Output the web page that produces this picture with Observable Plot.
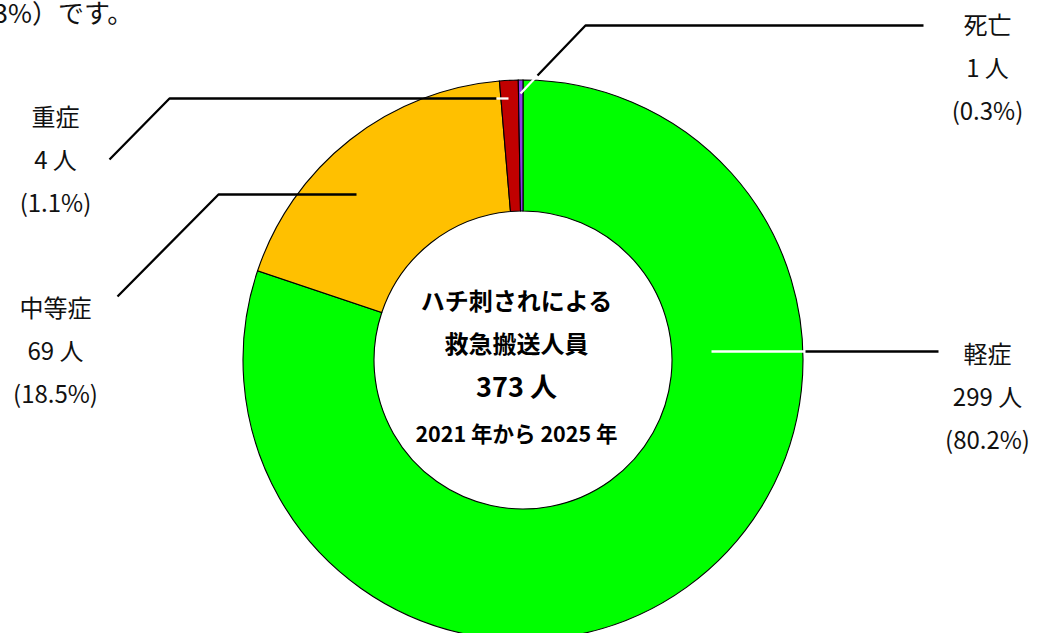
<!DOCTYPE html>
<html><head><meta charset="utf-8">
<script src="https://cdn.jsdelivr.net/npm/d3@7"></script>
<script src="https://cdn.jsdelivr.net/npm/@observablehq/plot@0.6"></script>
<style>
html,body{margin:0;padding:0;background:#fff;overflow:hidden;}
svg{display:block;}
</style>
</head><body><div id="chart"></div>
<script>
// ---- data ----
const categories = ["軽症", "中等症", "重症", "死亡"];
const counts = [299, 69, 4, 1];
const percents = ["80.2%", "18.5%", "1.1%", "0.3%"];
const centerLines = ["ハチ刺されによる", "救急搬送人員", "人", "2021 年から 2025 年"];
const introText = "3%）です。";

// ---- styles / layout (kept apart from data) ----
const sliceColors = ["#00ff00", "#ffc000", "#c00000", "#8c3ce6"];
const W = 1039, H = 633;
const ring = {cx: 523, cy: 360, outer: 280, inner: 149};
const labelPos = [
  {x: 987, y: 392}, {x: 55, y: 346}, {x: 55, y: 155}, {x: 987, y: 63}
];
const leaderPaths = [
  [{c: "white", pts: [[711, 351], [805, 351]]}, {c: "black", pts: [[805, 351], [938, 351]]}],
  [{c: "black", pts: [[117, 296], [218, 194], [356, 194]]}],
  [{c: "black", pts: [[109, 159], [169, 98], [496, 98]]}, {c: "white", pts: [[496, 98], [508, 98]]}],
  [{c: "white", pts: [[520, 93], [537, 75]]}, {c: "black", pts: [[537, 75], [585, 25], [923, 25]]}]
];

const rows = categories.map((k, i) => ({category: k, count: counts[i], pct: percents[i], color: sliceColors[i]}));
const total = d3.sum(counts);

const leaderData = leaderPaths.flatMap((segs, i) =>
  segs.flatMap((s, j) => s.pts.map(([x, y]) => ({x, y, z: `${i}-${j}`, c: s.c}))));

const labelData = rows.map((r, i) => ({
  x: labelPos[i].x, y: labelPos[i].y,
  text: `${r.category}\n${r.count} 人\n(${r.pct})`
}));

const centerData = [
  {x: 516, y: 302, text: centerLines[0], size: 24},
  {x: 516, y: 345, text: centerLines[1], size: 24},
  {x: 516, y: 388, text: `${total} ${centerLines[2]}`, size: 27},
  {x: 516, y: 435, text: centerLines[3], size: 21.5}
];

// donut as a render-function mark placed through Plot's scales
function donut(index, scales) {
  const x0 = scales.x(ring.cx), y0 = scales.y(ring.cy);
  const ro = Math.abs(scales.x(ring.cx + ring.outer) - x0);
  const ri = Math.abs(scales.x(ring.cx + ring.inner) - x0);
  const pie = d3.pie().sort(null).value(d => d.count)(rows);
  const arc = d3.arc().innerRadius(ri).outerRadius(ro);
  const g = d3.create("svg:g").attr("transform", `translate(${x0},${y0})`);
  g.selectAll("path").data(pie).join("path")
    .attr("d", arc)
    .attr("fill", d => d.data.color)
    .attr("stroke", "#000")
    .attr("stroke-width", 1.1);
  return g.node();
}

const chart = Plot.plot({
  width: W, height: H,
  margin: 0,
  x: {domain: [0, W], range: [0, W], axis: null},
  y: {domain: [0, H], range: [0, H], axis: null},
  style: {background: "#fff", fontFamily: "'Noto Sans CJK JP', 'Noto Sans', sans-serif"},
  marks: [
    donut,
    Plot.line(leaderData, {x: "x", y: "y", z: "z", stroke: "c", strokeWidth: 2.3, strokeLinecap: "butt", strokeLinejoin: "miter"}),
    Plot.text(labelData, {x: "x", y: "y", text: "text", fontSize: 24, lineHeight: 1.78, lineAnchor: "middle", textAnchor: "middle", fill: "#111"}),
    Plot.text(centerData, {x: "x", y: "y", text: "text", fontSize: d => d.size, fontWeight: "bold", textAnchor: "middle", lineAnchor: "middle", fill: "#000"}),
    Plot.text([introText], {x: () => -7, y: () => 14, text: d => d, fontSize: 26, textAnchor: "start", lineAnchor: "middle", fill: "#111"})
  ]
});
document.getElementById("chart").append(chart);
</script>
</body></html>
